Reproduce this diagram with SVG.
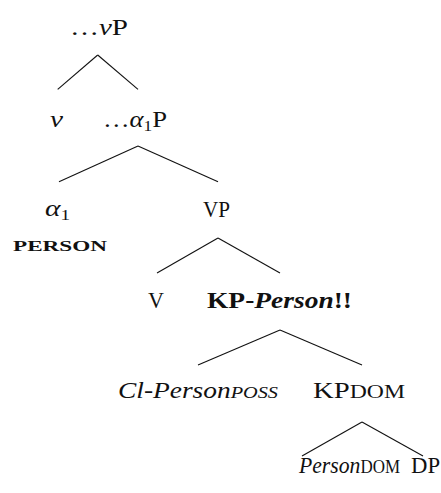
<svg xmlns="http://www.w3.org/2000/svg" width="441" height="493" viewBox="0 0 441 493">
<style>
  text { font-family: "Liberation Serif", "DejaVu Serif", serif; font-size: 23px; fill: #111; }
  .it { font-style: italic; }
  .sc { font-size: 17px; }
  .sc2 { font-size: 19px; }
  .sc3 { font-size: 18px; }
  .scb { font-size: 15px; font-weight: bold; }
  .sub { font-size: 15px; }
  .edges line { stroke: #111; stroke-width: 1.1; }
</style>
<rect width="441" height="493" fill="#fff"/>
<g class="edges" id="connectors">
  <line x1="97.7" y1="55" x2="57.7" y2="89.3"/>
  <line x1="97.7" y1="55" x2="138" y2="89.3"/>
  <line x1="138" y1="146" x2="59" y2="181.7"/>
  <line x1="138" y1="146" x2="218" y2="181.7"/>
  <line x1="218" y1="238" x2="157" y2="273"/>
  <line x1="218" y1="238" x2="280" y2="273"/>
  <line x1="280" y1="330" x2="198" y2="365"/>
  <line x1="280" y1="330" x2="362" y2="365"/>
  <line x1="362" y1="422" x2="302" y2="456"/>
  <line x1="362" y1="422" x2="423" y2="456"/>
</g>
<g id="vP"><text x="70" y="35" textLength="58" lengthAdjust="spacingAndGlyphs">…<tspan class="it">v</tspan>P</text></g>
<g id="v"><text x="50" y="127" class="it" textLength="13" lengthAdjust="spacingAndGlyphs">v</text></g>
<g id="alpha1P"><text x="103" y="127" textLength="64" lengthAdjust="spacingAndGlyphs">…<tspan class="it">α</tspan><tspan class="sub" dy="4">1</tspan><tspan dy="-4">P</tspan></text></g>
<g id="alpha1"><text x="45" y="216" textLength="25" lengthAdjust="spacingAndGlyphs"><tspan class="it">α</tspan><tspan class="sub" dy="4">1</tspan></text><text x="13" y="251" class="scb" textLength="94" lengthAdjust="spacingAndGlyphs">PERSON</text></g>
<g id="VP"><text x="203" y="217" textLength="27" lengthAdjust="spacingAndGlyphs">VP</text></g>
<g id="V"><text x="148" y="308" textLength="16" lengthAdjust="spacingAndGlyphs">V</text></g>
<g id="KPPerson"><text x="207" y="308" font-weight="bold" textLength="145" lengthAdjust="spacingAndGlyphs">KP-<tspan class="it">Person</tspan>!!</text></g>
<g id="ClPerson"><text x="118" y="398" class="it" textLength="160" lengthAdjust="spacingAndGlyphs">Cl-Person<tspan class="sc">POSS</tspan></text></g>
<g id="KPdom"><text x="313" y="398" textLength="92" lengthAdjust="spacingAndGlyphs">KP<tspan class="sc2">DOM</tspan></text></g>
<g id="PersonDom"><text x="299" y="473" textLength="101" lengthAdjust="spacingAndGlyphs"><tspan class="it">Person</tspan><tspan class="sc3">DOM</tspan></text></g>
<g id="DP"><text x="411" y="473" textLength="29" lengthAdjust="spacingAndGlyphs">DP</text></g>
</svg>
